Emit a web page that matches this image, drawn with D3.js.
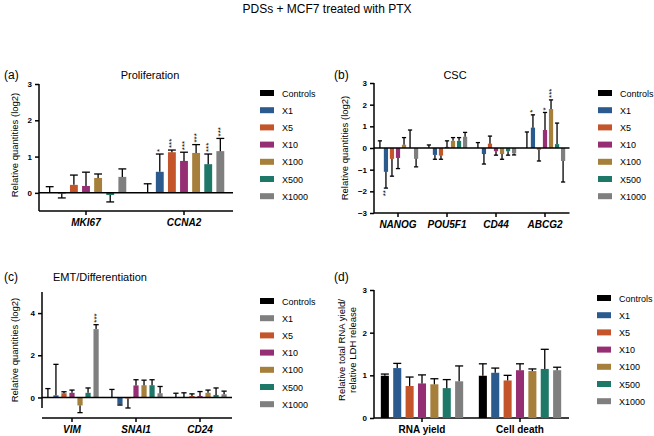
<!DOCTYPE html>
<html>
<head>
<meta charset="utf-8">
<script src="https://cdn.jsdelivr.net/npm/d3@7"></script>
<style>
  body { margin: 0; background: #fff; }
  svg { font-family: "Liberation Sans", Arial, sans-serif; }
</style>
</head>
<body>
<svg id="chart" width="654" height="436"></svg>
<script>
var series = ["Controls", "X1", "X5", "X10", "X100", "X500", "X1000"]
var colors = ["#000000", "#2b5a8f", "#c4552b", "#962e74", "#a67f3b", "#1d7868", "#7f7f7f"]
// panel (c) legend shows X1 in grey
var colorsLegendC = ["#000000", "#7f7f7f", "#c4552b", "#962e74", "#a67f3b", "#1d7868", "#7f7f7f"]

// (a) Proliferation
var catA = ["MKI67", "CCNA2"]
var valA = [
  [0, -0.02, 0.22, 0.19, 0.41, -0.06, 0.44],
  [0, 0.58, 1.12, 0.88, 1.1, 0.79, 1.15]
]
var errA = [
  [0.17, -0.14, 0.49, 0.57, 0.52, -0.25, 0.66],
  [0.25, 1.07, 1.18, 1.12, 1.33, 1.07, 1.5]
]
var sigA = [
  ["", "", "", "", "", "", ""],
  ["", "*", "***", "***", "***", "***", "***"]
]

// (b) CSC
var catB = ["NANOG", "POU5F1", "CD44", "ABCG2"]
var valB = [
  [0, -1.1, -0.5, -0.46, 0.15, 0, -0.5],
  [0, -0.32, -0.35, 0.05, 0.33, 0.33, 0.52],
  [0, -0.28, 0.2, -0.15, -0.28, -0.15, -0.25],
  [0, 0.94, -0.08, 0.83, 1.8, 0.18, -0.6]
]
var errB = [
  [0.33, -1.85, -1.3, -0.95, 0.48, 0.83, -0.87],
  [0.14, -0.52, -0.52, 0.33, 0.48, 0.48, 0.72],
  [0.25, -0.74, 0.55, -0.33, -0.52, -0.33, -0.32],
  [0.74, 1.53, -0.6, 1.64, 2.22, 1.15, -1.57]
]
var sigB = [
  ["", "**", "", "", "", "", ""],
  ["", "", "", "", "", "", ""],
  ["", "", "", "", "", "", ""],
  ["", "*", "", "*", "***", "", ""]
]

// (c) EMT/Differentiation
var catC = ["VIM", "SNAI1", "CD24"]
var valC = [
  [0, 0.1, 0.2, 0.22, -0.38, 0.22, 3.24],
  [0, -0.33, -0.05, 0.57, 0.58, 0.58, 0.2],
  [0, 0, 0.07, 0.07, 0.22, 0.12, 0.15]
]
var errC = [
  [0.42, 1.57, 0.27, 0.35, -0.72, 0.45, 3.45],
  [0.38, -0.36, -0.5, 0.84, 0.82, 0.84, 0.52],
  [0.2, 0.22, 0.17, 0.28, 0.35, 0.45, 0.3]
]
var sigC = [
  ["", "", "", "", "", "", "***"],
  ["", "", "", "", "", "", ""],
  ["", "", "", "", "", "", ""]
]

// (d) RNA yield / cell death
var catD = ["RNA yield", "Cell death"]
var valD = [
  [0.99, 1.17, 0.75, 0.81, 0.79, 0.7, 0.86],
  [0.99, 1.06, 0.88, 1.12, 1.1, 1.15, 1.12]
]
var errD = [
  [1.03, 1.28, 0.96, 1.01, 0.92, 0.9, 1.22],
  [1.27, 1.17, 1.0, 1.27, 1.15, 1.61, 1.19]
]

var svg = d3.select("#chart")

svg.append("text")
  .attr("x", 327).attr("y", 13)
  .attr("text-anchor", "middle")
  .attr("font-size", 12)
  .text("PDSs + MCF7 treated with PTX")

function panel(o) {
  var g = svg.append("g")
  var y = d3.scaleLinear().domain(o.ydom).range(o.yrange)
  var x0 = d3.scaleBand().domain(o.cats).range(o.xrange)
  var x1 = d3.scaleBand().domain(series).range([-o.half, o.half]).padding(o.pad)

  // panel letter and title
  g.append("text").attr("x", o.lx).attr("y", o.ly).attr("font-size", 12).text(o.letter)
  g.append("text").attr("x", o.tx).attr("y", o.ly).attr("text-anchor", "middle")
    .attr("font-size", 11).text(o.title)

  // y axis
  var ya = g.append("g").attr("transform", "translate(" + o.yaxX + ",0)")
    .call(d3.axisLeft(y).tickValues(o.ticks).tickSize(4).tickPadding(3).tickFormat(d3.format("d")))
  ya.select(".domain").attr("d", "M0," + y(o.ydom[0]) + "V" + y(o.ydom[1]))
  ya.selectAll("line, path").attr("stroke", "#000").attr("stroke-width", 1.5)
  ya.selectAll("text").attr("font-size", 8).attr("font-weight", "bold")
    .attr("font-family", "Liberation Sans, Arial, sans-serif")

  var ylab = g.append("text")
    .attr("transform", "translate(" + o.ylx + "," + o.yly + ") rotate(-90)")
    .attr("text-anchor", "middle").attr("font-size", 9.5)
  o.ylabel.forEach(function(t, i) {
    ylab.append("tspan").attr("x", 0).attr("dy", i == 0 ? 0 : 11).text(t)
  })

  // x axis
  var xa = g.append("g").attr("transform", "translate(0," + o.xaxY + ")")
    .call(d3.axisBottom(x0).tickSize(4).tickPadding(4).tickSizeOuter(0))
  xa.select(".domain").attr("d", "M" + o.yaxX + ",0H" + o.xrange[1])
  xa.selectAll("line, path").attr("stroke", "#000").attr("stroke-width", 1.5)
  xa.selectAll("text").attr("font-size", 10).attr("font-weight", "bold")
    .attr("font-style", o.italic ? "italic" : "normal")
    .attr("font-family", "Liberation Sans, Arial, sans-serif")

  // bars
  o.cats.forEach(function(c, ci) {
    var cx = x0(c) + x0.bandwidth() / 2
    series.forEach(function(s, si) {
      var v = o.vals[ci][si], e = o.errs[ci][si]
      var bx = cx + x1(s)
      var w = x1.bandwidth()
      g.append("rect")
        .attr("x", bx).attr("width", w)
        .attr("y", y(Math.max(0, v))).attr("height", Math.abs(y(v) - y(0)))
        .attr("fill", colors[si])
      var mx = bx + w / 2
      g.append("line").attr("x1", mx).attr("x2", mx)
        .attr("y1", y(v)).attr("y2", y(e)).attr("stroke", "#000").attr("stroke-width", 1.3)
      g.append("line").attr("x1", mx - w / 2).attr("x2", mx + w / 2)
        .attr("y1", y(e)).attr("y2", y(e)).attr("stroke", "#000").attr("stroke-width", 1.3)
      var sg = o.sigs ? o.sigs[ci][si] : ""
      if (sg) {
        var up = e >= v
        var sy = up ? y(e) - 2 : y(e) + 2
        g.append("text")
          .attr("transform", "translate(" + (mx + 2.5) + "," + sy + ") rotate(-90)")
          .attr("text-anchor", up ? "start" : "end")
          .attr("font-size", 8).text(sg)
      }
    })
  })

  // zero line
  if (o.zero) {
    g.append("line").attr("x1", o.yaxX).attr("x2", o.xrange[1])
      .attr("y1", y(0)).attr("y2", y(0)).attr("stroke", "#000").attr("stroke-width", 1.5)
  }

  // legend
  var lg = g.append("g").attr("transform", "translate(" + o.legX + "," + o.legY + ")")
  series.forEach(function(s, si) {
    var row = lg.append("g").attr("transform", "translate(0," + si * 17.2 + ")")
    row.append("rect").attr("x", 0).attr("y", -3).attr("width", 14).attr("height", 6)
      .attr("fill", (o.legColors || colors)[si])
    row.append("text").attr("x", 22).attr("y", 3.5).attr("font-size", 9).text(s)
  })
}

panel({
  letter: "(a)", title: "Proliferation", lx: 4, ly: 79, tx: 150,
  cats: catA, vals: valA, errs: errA, sigs: sigA, italic: true,
  ydom: [-0.5, 3], yrange: [211, 84], ticks: [0, 1, 2, 3],
  xrange: [37, 233], half: 44.5, pad: 0.35, yaxX: 39, xaxY: 211, zero: true,
  ylabel: ["Relative quantities (log2)"], ylx: 18, yly: 145,
  legX: 260, legY: 93
})

panel({
  letter: "(b)", title: "CSC", lx: 334, ly: 79, tx: 455,
  cats: catB, vals: valB, errs: errB, sigs: sigB, italic: true,
  ydom: [-3, 3], yrange: [213, 83], ticks: [-3, -2, -1, 0, 1, 2, 3],
  xrange: [373.5, 569.5], half: 22, pad: 0.3, yaxX: 374, xaxY: 213, zero: true,
  ylabel: ["Relative quantities (log2)"], ylx: 348, yly: 148,
  legX: 598, legY: 93
})

panel({
  letter: "(c)", title: "EMT/Differentiation", lx: 4, ly: 281, tx: 100,
  cats: catC, vals: valC, errs: errC, sigs: sigC, italic: true,
  ydom: [-0.5, 5], yrange: [408, 292], ticks: [0, 2, 4],
  xrange: [40, 232], half: 29.5, pad: 0.35, yaxX: 42, xaxY: 418, zero: true,
  ylabel: ["Relative quantities (log2)"], ylx: 18, yly: 350,
  legX: 260, legY: 301, legColors: colorsLegendC
})

panel({
  letter: "(d)", title: "", lx: 334, ly: 281, tx: 455,
  cats: catD, vals: valD, errs: errD, sigs: null, italic: false,
  ydom: [0, 3], yrange: [418, 290], ticks: [0, 1, 2, 3],
  xrange: [373, 569], half: 45.5, pad: 0.35, yaxX: 374, xaxY: 418, zero: false,
  ylabel: ["Relative total RNA yield/", "relative LDH release"], ylx: 345, yly: 350,
  legX: 597, legY: 298
})
</script>
</body>
</html>
